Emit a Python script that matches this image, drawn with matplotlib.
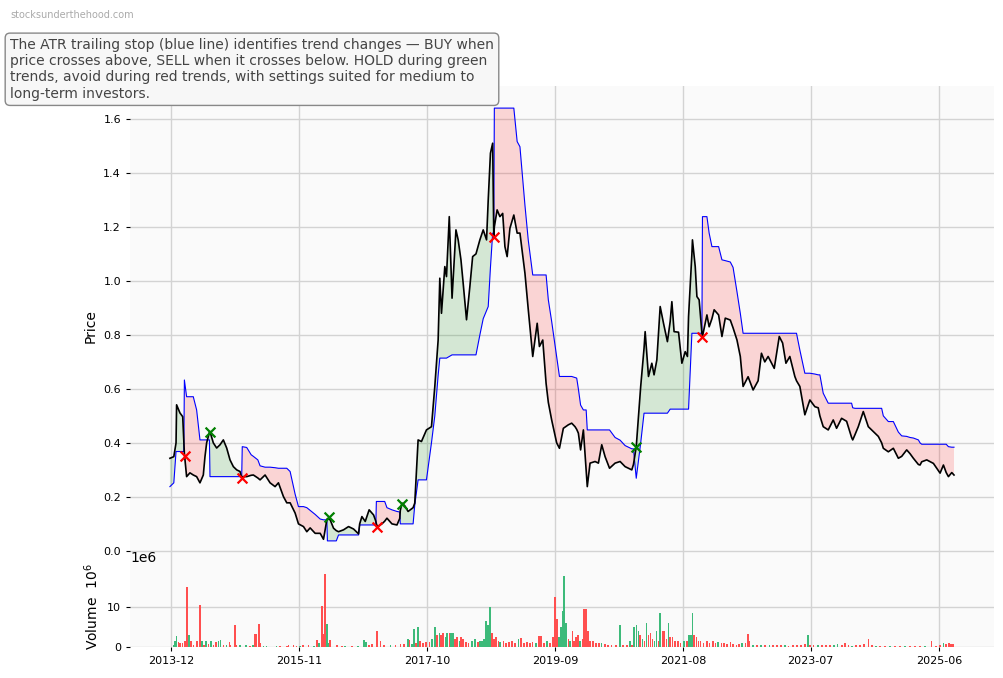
import numpy as np
import pandas as pd
import matplotlib
matplotlib.use("Agg")
import matplotlib.pyplot as plt
from matplotlib.ticker import ScalarFormatter

# month offsets from 2013-12-01, close price and ATR trailing stop
months = [-0.2, 0.5, 0.9, 1.0, 1.6, 2.1, 2.3, 2.4, 2.8, 3.4, 4.0, 4.6, 5.2, 5.8, 6.1, 6.4, 6.9, 7.0,
          7.6, 8.2, 8.8, 9.4, 10.0, 10.6, 11.2, 11.8, 12.4, 12.7, 12.8, 13.6, 14.4, 14.8, 15.6, 16.0,
          16.9, 17.8, 18.7, 19.3, 20.2, 20.8, 21.4, 22.3, 22.9, 23.8, 24.4, 25.0, 25.9, 26.8, 27.4,
          28.0, 28.1, 28.6, 29.2, 29.7, 30.1, 31.0, 31.9, 32.8, 33.7, 33.9, 34.3, 34.9, 35.6, 36.4,
          36.8, 36.9, 37.1, 37.9, 38.4, 38.8, 39.7, 40.6, 41.1, 41.2, 41.5, 42.0, 42.6, 43.5, 43.8,
          44.4, 45.0, 45.9, 46.8, 47.4, 48.0, 48.3, 48.6, 49.2, 49.5, 50.0, 50.5, 51.2, 51.6, 52.1,
          52.5, 53.1, 53.7, 54.2, 54.8, 55.5, 56.1, 56.7, 57.0, 57.4, 57.8, 58.0, 58.1, 58.6, 59.1,
          59.6, 60.0, 60.4, 60.9, 61.6, 62.2, 62.7, 63.6, 64.2, 65.0, 65.8, 66.2, 66.8, 67.4, 67.8,
          68.4, 69.3, 69.8, 70.5, 71.4, 72.0, 72.6, 72.9, 73.2, 73.6, 74.1, 74.6, 74.8, 75.3, 76.2,
          76.8, 77.4, 78.0, 78.8, 79.8, 80.7, 81.6, 82.8, 83.1, 83.6, 84.4, 85.0, 85.2, 85.8, 86.4,
          86.8, 87.3, 87.9, 88.5, 89.2, 89.7, 90.0, 90.4, 91.2, 91.8, 92.4, 92.8, 93.0, 93.6, 93.7,
          94.2, 94.5, 94.9, 95.4, 95.5, 96.3, 96.7, 97.2, 97.6, 98.4, 99.0, 99.6, 100.5, 101.0,
          101.7, 102.3, 102.8, 103.7, 104.6, 105.5, 106.1, 106.7, 107.3, 108.4, 109.3, 109.9, 110.5,
          111.2, 112.1, 112.4, 113.0, 113.9, 114.8, 115.7, 116.3, 116.6, 117.2, 118.1, 119.0, 119.6,
          120.5, 121.4, 122.3, 122.5, 122.9, 123.5, 124.4, 125.3, 126.2, 127.1, 127.7, 128.0, 128.9,
          129.8, 130.7, 131.3, 132.2, 132.8, 133.4, 134.3, 134.6, 134.9, 135.8, 137.0, 138.2, 138.8,
          139.3, 139.7, 140.3, 140.7]

close = [0.343, 0.349, 0.40, 0.541, 0.511, 0.497, 0.40, 0.36, 0.275, 0.289, 0.281, 0.275, 0.252, 0.281,
         0.349, 0.40, 0.44, 0.442, 0.40, 0.381, 0.393, 0.411, 0.381, 0.337, 0.312, 0.30, 0.294, 0.269,
         0.275, 0.275, 0.28, 0.281, 0.27, 0.263, 0.281, 0.252, 0.238, 0.252, 0.201, 0.178, 0.178, 0.14,
         0.10, 0.09, 0.071, 0.085, 0.065, 0.065, 0.043, 0.115, 0.12, 0.115, 0.084, 0.075, 0.071, 0.078,
         0.09, 0.081, 0.063, 0.10, 0.127, 0.109, 0.152, 0.133, 0.11, 0.10, 0.09, 0.10, 0.11, 0.121, 0.10,
         0.096, 0.12, 0.15, 0.177, 0.167, 0.146, 0.16, 0.177, 0.411, 0.405, 0.448, 0.46, 0.609, 0.781,
         1.01, 0.88, 1.053, 1.016, 1.238, 0.936, 1.189, 1.152, 1.078, 0.991, 0.856, 0.979, 1.09, 1.10,
         1.152, 1.189, 1.152, 1.30, 1.473, 1.51, 1.164, 1.20, 1.263, 1.238, 1.25, 1.127, 1.09, 1.195,
         1.244, 1.177, 1.177, 1.028, 0.893, 0.72, 0.843, 0.757, 0.781, 0.62, 0.55, 0.485, 0.40, 0.38,
         0.454, 0.467, 0.473, 0.46, 0.45, 0.436, 0.374, 0.448, 0.30, 0.238, 0.325, 0.331, 0.325, 0.393,
         0.349, 0.306, 0.325, 0.331, 0.312, 0.30, 0.32, 0.386, 0.609, 0.75, 0.812, 0.646, 0.695, 0.652,
         0.707, 0.905, 0.843, 0.775, 0.85, 0.923, 0.812, 0.81, 0.695, 0.738, 0.72, 0.868, 1.10, 1.152,
         1.053, 0.942, 0.93, 0.806, 0.794, 0.874, 0.83, 0.86, 0.893, 0.874, 0.794, 0.862, 0.855, 0.826,
         0.781, 0.72, 0.609, 0.645, 0.596, 0.63, 0.732, 0.70, 0.72, 0.676, 0.794, 0.77, 0.695, 0.72,
         0.646, 0.63, 0.609, 0.504, 0.559, 0.534, 0.53, 0.50, 0.46, 0.448, 0.485, 0.454, 0.491, 0.48,
         0.42, 0.411, 0.43, 0.46, 0.516, 0.46, 0.442, 0.424, 0.40, 0.38, 0.367, 0.38, 0.343, 0.35, 0.374,
         0.36, 0.343, 0.32, 0.318, 0.33, 0.337, 0.324, 0.288, 0.318, 0.29, 0.275, 0.29, 0.281]

trail_stop = [0.238, 0.252, 0.368, 0.368, 0.368, 0.368, 0.368, 0.633, 0.571, 0.571, 0.571, 0.522, 0.411,
              0.411, 0.411, 0.411, 0.411, 0.275, 0.275, 0.275, 0.275, 0.275, 0.275, 0.275, 0.275, 0.275,
              0.275, 0.275, 0.386, 0.383, 0.356, 0.35, 0.337, 0.315, 0.31, 0.31, 0.308, 0.306, 0.306,
              0.306, 0.294, 0.21, 0.164, 0.164, 0.16, 0.15, 0.135, 0.118, 0.115, 0.115, 0.037, 0.037,
              0.037, 0.037, 0.059, 0.059, 0.059, 0.059, 0.059, 0.096, 0.096, 0.096, 0.096, 0.096, 0.096,
              0.183, 0.183, 0.183, 0.183, 0.16, 0.152, 0.146, 0.144, 0.10, 0.10, 0.10, 0.10, 0.10, 0.17,
              0.263, 0.263, 0.263, 0.40, 0.50, 0.65, 0.714, 0.714, 0.714, 0.714, 0.72, 0.726, 0.726,
              0.726, 0.726, 0.726, 0.726, 0.726, 0.726, 0.726, 0.80, 0.86, 0.89, 0.905, 1.05, 1.177,
              1.177, 1.64, 1.64, 1.64, 1.64, 1.64, 1.64, 1.64, 1.64, 1.516, 1.497, 1.28, 1.15, 1.022,
              1.022, 1.022, 1.022, 1.022, 0.93, 0.85, 0.72, 0.646, 0.646, 0.646, 0.646, 0.642, 0.64,
              0.60, 0.54, 0.522, 0.522, 0.448, 0.448, 0.448, 0.448, 0.448, 0.448, 0.448, 0.42, 0.41,
              0.39, 0.378, 0.378, 0.269, 0.40, 0.51, 0.51, 0.51, 0.51, 0.51, 0.51, 0.51, 0.51, 0.51,
              0.525, 0.525, 0.525, 0.525, 0.525, 0.525, 0.525, 0.525, 0.806, 0.806, 0.806, 0.806,
              0.806, 0.806, 1.238, 1.238, 1.177, 1.127, 1.127, 1.127, 1.078, 1.075, 1.07, 1.05, 0.96,
              0.88, 0.806, 0.806, 0.806, 0.806, 0.806, 0.806, 0.806, 0.806, 0.806, 0.806, 0.806, 0.806,
              0.806, 0.806, 0.744, 0.658, 0.658, 0.655, 0.652, 0.652, 0.584, 0.547, 0.547, 0.547, 0.547,
              0.547, 0.547, 0.53, 0.528, 0.528, 0.528, 0.528, 0.528, 0.528, 0.528, 0.50, 0.479, 0.479,
              0.44, 0.426, 0.424, 0.42, 0.418, 0.411, 0.40, 0.395, 0.395, 0.395, 0.395, 0.395, 0.395,
              0.386, 0.384, 0.384]

buy_months = [7.0, 28.3, 41.5, 83.6]
buy_prices = [0.442, 0.125, 0.172, 0.386]
sell_months = [2.5, 12.7, 37.1, 58.0, 95.5]
sell_prices = [0.352, 0.27, 0.09, 1.164, 0.794]

# volume (millions) with up/down flag
vol_months = [0.4, 0.7, 1.0, 1.3, 1.6, 2.1, 2.5, 2.9, 3.2, 3.6, 4.0, 4.7, 5.2, 5.6, 5.9, 6.3, 6.7, 7.2,
              7.6, 8.1, 8.5, 8.9, 9.4, 10.0, 10.5, 10.7, 11.5, 11.8, 12.4, 13.5, 14.2, 14.7, 15.1, 15.4,
              15.8, 16.1, 16.6, 17.2, 19.0, 19.6, 20.8, 21.1, 22.0, 22.5, 23.2, 23.7, 24.7, 25.7, 26.2,
              26.6, 27.1, 27.4, 27.7, 28.0, 28.3, 28.6, 29.8, 30.7, 31.3, 32.5, 33.6, 34.7, 35.0, 35.6,
              36.1, 37.0, 37.6, 38.3, 39.4, 40.3, 41.2, 41.9, 42.6, 42.9, 43.3, 43.7, 44.0, 44.4, 44.7,
              45.3, 45.8, 46.4, 46.9, 47.4, 47.8, 48.2, 48.5, 48.9, 49.3, 49.6, 50.0, 50.3, 50.7, 51.0,
              51.4, 51.8, 52.1, 52.5, 53.0, 53.5, 54.1, 54.6, 55.2, 55.5, 55.9, 56.2, 56.6, 57.0, 57.3,
              57.7, 58.0, 58.4, 58.8, 59.1, 59.7, 60.2, 60.7, 61.3, 61.8, 62.4, 62.9, 63.4, 64.0, 64.5,
              65.0, 65.6, 66.1, 66.5, 67.0, 67.6, 68.1, 68.6, 69.0, 69.4, 69.7, 70.1, 70.4, 70.6, 71.0,
              71.4, 71.7, 72.1, 72.4, 72.8, 73.1, 73.5, 73.9, 74.2, 74.6, 74.9, 75.3, 75.8, 76.4, 76.9,
              77.4, 78.0, 78.5, 79.2, 80.0, 80.7, 81.2, 81.9, 82.5, 82.8, 83.2, 83.6, 84.0, 84.3, 84.7,
              85.1, 85.4, 85.8, 86.2, 86.5, 86.9, 87.2, 87.6, 87.9, 88.3, 88.6, 89.0, 89.4, 89.7, 90.1,
              90.6, 91.1, 91.6, 92.2, 92.7, 93.1, 93.4, 93.7, 94.0, 94.4, 94.8, 95.1, 95.7, 96.3, 96.8,
              97.4, 97.8, 98.3, 98.9, 99.4, 99.9, 100.5, 101.0, 101.6, 102.1, 102.6, 103.2, 103.7,
              104.0, 104.6, 105.3, 106.0, 106.7, 107.5, 108.2, 108.9, 109.6, 110.3, 111.0, 111.8,
              112.5, 113.2, 113.9, 114.5, 114.8, 115.5, 116.3, 117.0, 117.7, 118.4, 119.1, 119.8,
              120.6, 121.1, 121.7, 122.4, 123.1, 123.8, 124.5, 125.3, 126.0, 126.7, 127.4, 128.3,
              129.2, 130.1, 131.0, 131.9, 132.8, 133.7, 134.6, 135.5, 136.7, 137.5, 138.2, 138.8,
              139.3, 139.8, 140.2, 140.5]
volume_m = [0.6, 1.5, 2.7, 1.2, 0.9, 1.0, 1.5, 15.1, 3.0, 1.5, 0.4, 1.5, 10.7, 1.5, 0.6, 1.5, 0.8, 1.5,
            0.4, 1.2, 1.5, 1.7, 0.6, 0.4, 1.2, 0.4, 5.5, 0.6, 0.4, 0.4, 0.2, 0.6, 3.2, 3.2, 5.7, 0.9,
            0.2, 0.2, 0.2, 0.2, 0.2, 0.4, 0.6, 0.2, 0.2, 0.4, 0.6, 0.2, 1.9, 1.0, 10.4, 3.2, 18.5, 5.7,
            1.0, 1.9, 0.4, 0.2, 0.2, 0.2, 0.3, 1.8, 1.2, 0.5, 0.8, 4.0, 1.5, 0.5, 0.5, 0.6, 0.8, 0.8,
            2.0, 1.8, 0.8, 4.5, 1.0, 5.0, 1.5, 1.0, 1.2, 1.2, 2.0, 5.0, 3.0, 3.5, 3.0, 3.5, 2.5, 3.5,
            3.5, 3.5, 3.5, 2.0, 2.5, 1.5, 2.5, 2.0, 1.2, 1.0, 1.5, 2.0, 1.2, 1.5, 1.5, 2.0, 6.5, 5.5,
            10.0, 3.5, 2.0, 2.5, 1.5, 1.2, 1.5, 1.0, 1.2, 1.5, 1.0, 2.0, 2.2, 1.0, 1.2, 1.0, 1.2, 1.0,
            2.8, 2.8, 1.0, 1.5, 1.0, 2.5, 12.6, 7.0, 2.5, 5.0, 9.0, 18.0, 6.0, 2.0, 1.5, 4.0, 1.5, 2.5,
            3.0, 1.5, 2.0, 9.5, 9.5, 4.0, 1.5, 1.5, 1.0, 1.0, 1.0, 0.8, 0.6, 0.6, 0.6, 5.5, 0.6, 0.6,
            1.5, 0.6, 5.0, 5.5, 4.0, 3.0, 2.0, 1.5, 6.0, 3.0, 3.5, 2.0, 1.5, 4.0, 1.5, 8.5, 4.0, 4.0,
            2.0, 6.0, 2.5, 2.5, 1.5, 1.5, 1.0, 1.5, 1.5, 3.0, 3.0, 8.5, 3.0, 2.5, 1.5, 1.5, 1.0, 1.5,
            1.0, 1.5, 1.0, 1.2, 1.0, 1.0, 0.8, 1.2, 0.8, 0.6, 0.8, 1.0, 1.0, 3.2, 1.5, 0.6, 0.5, 0.6,
            0.4, 0.5, 0.4, 0.6, 0.4, 0.4, 0.3, 0.4, 0.5, 0.6, 0.8, 3.0, 0.6, 0.4, 0.5, 0.4, 0.5, 0.4,
            0.6, 0.8, 0.6, 1.0, 0.4, 0.3, 0.4, 0.5, 0.8, 2.0, 0.4, 0.3, 0.3, 0.3, 0.3, 0.2, 0.3, 0.3,
            0.2, 0.3, 0.3, 0.3, 1.5, 0.3, 0.6, 1.0, 0.8, 1.0, 0.8, 0.8]
vol_up = [1, 1, 1, 0, 0, 0, 0, 0, 1, 0, 0, 0, 0, 1, 0, 1, 0, 1,
          0, 0, 1, 1, 0, 1, 0, 0, 0, 0, 1, 1, 0, 1, 0, 0, 0, 0,
          1, 1, 1, 0, 0, 0, 0, 0, 1, 0, 0, 1, 0, 1, 0, 0, 0, 1,
          1, 0, 0, 0, 1, 0, 1, 1, 1, 0, 0, 0, 0, 0, 1, 0, 0, 0,
          1, 0, 1, 1, 0, 1, 0, 0, 0, 0, 1, 1, 0, 1, 0, 0, 1, 1,
          0, 1, 1, 0, 0, 1, 0, 0, 0, 0, 1, 1, 0, 1, 1, 1, 1, 1,
          1, 0, 0, 0, 0, 1, 0, 0, 0, 0, 0, 1, 0, 0, 0, 0, 0, 1,
          0, 0, 0, 1, 0, 0, 0, 0, 1, 1, 1, 1, 1, 0, 1, 0, 0, 0,
          0, 1, 0, 0, 0, 0, 0, 0, 0, 0, 1, 0, 0, 0, 0, 1, 0, 0,
          1, 0, 1, 1, 1, 0, 1, 0, 1, 0, 0, 0, 1, 1, 0, 1, 0, 0,
          0, 1, 0, 0, 0, 0, 0, 1, 0, 1, 1, 1, 0, 0, 0, 0, 0, 0,
          0, 0, 0, 1, 0, 0, 0, 0, 0, 0, 0, 1, 0, 0, 0, 1, 0, 1,
          0, 1, 0, 0, 0, 1, 0, 0, 0, 0, 0, 1, 0, 0, 1, 0, 0, 0,
          1, 1, 0, 0, 0, 1, 0, 0, 0, 0, 0, 1, 0, 0, 1, 0, 0, 1,
          0, 0, 0, 1, 0, 0, 0, 1, 0, 0, 0, 0, 0, 0]

tick_labels = ["2013-12", "2015-11", "2017-10", "2019-09", "2021-08", "2023-07", "2025-06"]

note = ("The ATR trailing stop (blue line) identifies trend changes \u2014 BUY when\n"
        "price crosses above, SELL when it crosses below. HOLD during green\n"
        "trends, avoid during red trends, with settings suited for medium to\n"
        "long-term investors.")


def to_dates(m):
    start = pd.Timestamp("2013-12-01")
    return start + pd.to_timedelta(np.asarray(m, dtype=float) * 30.437, unit="D")


dates = to_dates(months)
price = np.array(close)
stop = np.array(trail_stop)
vdates = to_dates(vol_months)
vols = np.array(volume_m) * 1e6
vcolors = ["#3dba7a" if u else "#ff4f4f" for u in vol_up]

bg = "#fafafa"
grid_c = "#d3d3d3"

fig = plt.figure(figsize=(10.04, 6.78), dpi=100)
ax = fig.add_axes([0.1295, 0.1652, 0.8606, 0.708])
axv = fig.add_axes([0.1295, 0.0457, 0.8606, 0.1195], sharex=ax)

for a in (ax, axv):
    a.set_facecolor(bg)
    for s in a.spines.values():
        s.set_visible(False)
    a.grid(True, color=grid_c, linewidth=1)
    a.set_axisbelow(True)
    a.tick_params(labelsize=8, length=3)

ax.fill_between(dates, price, stop, where=price >= stop, interpolate=True,
                color="green", alpha=0.15, linewidth=0)
ax.fill_between(dates, price, stop, where=price < stop, interpolate=True,
                color="red", alpha=0.15, linewidth=0)
ax.plot(dates, stop, color="blue", linewidth=0.8)
ax.plot(dates, price, color="black", linewidth=1.2)
ax.scatter(to_dates(buy_months), buy_prices, marker="x", color="green", s=50, linewidths=1.6, zorder=5)
ax.scatter(to_dates(sell_months), sell_prices, marker="x", color="red", s=50, linewidths=1.6, zorder=5)

ax.set_ylim(-0.056, 1.722)
ax.set_yticks(np.arange(0, 1.61, 0.2))
ax.set_ylabel("Price", fontsize=10)
ax.tick_params(axis="x", labelbottom=False, length=0)

axv.bar(vdates, vols, width=8, color=vcolors, linewidth=0)
axv.set_ylim(0, 20.5e6)
axv.set_yticks([0, 10e6])
fmt = ScalarFormatter()
fmt.set_powerlimits((6, 6))
axv.yaxis.set_major_formatter(fmt)
axv.set_ylabel("Volume  $10^{6}$", fontsize=10)

ticks = pd.to_datetime([t + "-01" for t in tick_labels])
axv.set_xticks(ticks)
axv.set_xticklabels(tick_labels)
axv.set_xlim(to_dates([-7.37])[0], to_dates([147.9])[0])

fig.text(0.01, 0.978, "stocksunderthehood.com", fontsize=7, color="#aaaaaa", va="center")
fig.text(0.01, 0.944, note, fontsize=10, color="#444444", va="top", ha="left",
         bbox=dict(boxstyle="round,pad=0.35", facecolor="#f7f7f7", edgecolor="#888888"))

fig.savefig("out.png", dpi=100)
